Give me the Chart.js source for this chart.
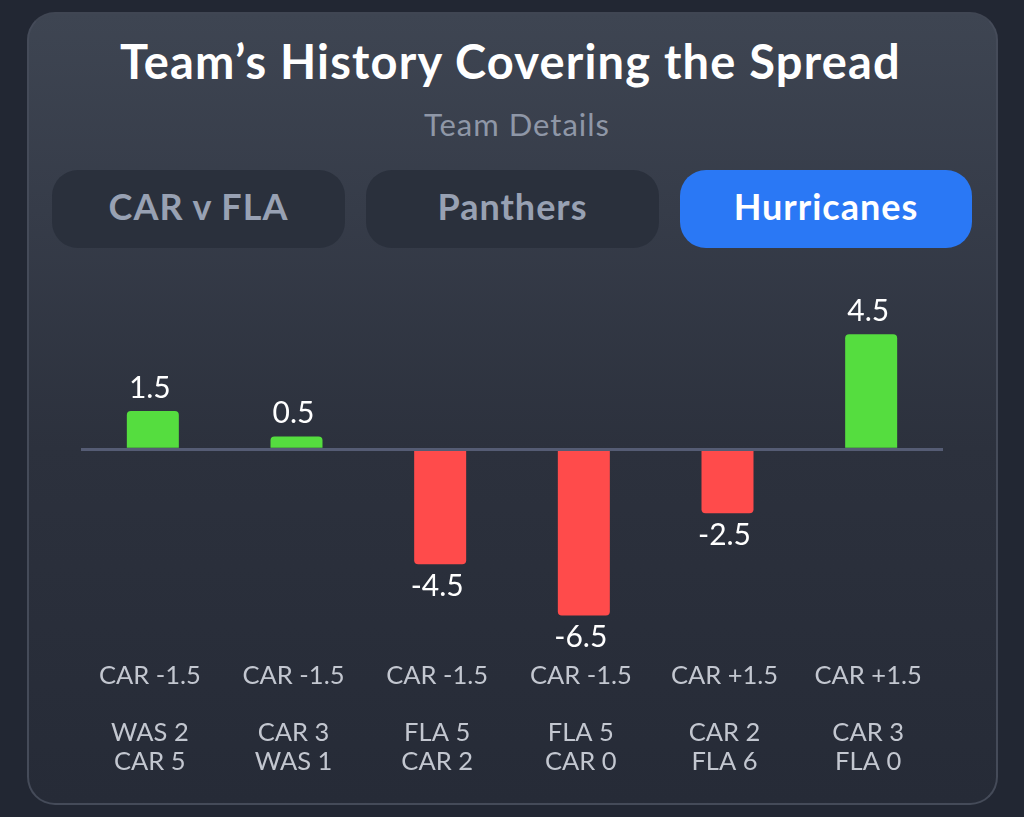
<!DOCTYPE html>
<html>
<head>
<meta charset="utf-8">
<title>Team's History Covering the Spread</title>
<script src="https://cdn.jsdelivr.net/npm/chart.js@4"></script>
<style>
html, body { margin: 0; padding: 0; }
body { width: 1024px; height: 817px; overflow: hidden; position: relative; background: #222733; font-family: Lato, sans-serif; }
.card { position: absolute; left: 27px; top: 12px; width: 967px; height: 789px; border: 2px solid #454b59; border-top-color: #404653; border-radius: 28px;
    background: linear-gradient(180deg, #3e4552 0%, #363c49 25%, #2c313d 55%, #262b37 100%); }
h1 { position: absolute; left: 0; top: 32px; width: 1021px; margin: 0; text-align: center; font-size: 47px; font-weight: 700; line-height: 58px; color: #fff; letter-spacing: 1.2px; }
.sub { position: absolute; left: 0; top: 105px; width: 1034px; text-align: center; font-size: 31px; line-height: 38px; color: #8f97a7; letter-spacing: 1px; }
.tab { position: absolute; top: 170px; width: 293px; height: 78px; border-radius: 26px; background: #2a303c; color: #98a1b3; font-size: 36px; font-weight: 700; line-height: 72px; text-align: center; letter-spacing: 1px; }
.tab.on { background: #2a78f5; color: #fff; width: 292px; }
#wrap { position: absolute; left: 81px; top: 296px; }
</style>
</head>
<body>
<div class="card"></div>
<h1>Team’s History Covering the Spread</h1>
<div class="sub">Team Details</div>
<div class="tab" style="left:52px">CAR v FLA</div>
<div class="tab" style="left:366px">Panthers</div>
<div class="tab on" style="left:680px">Hurricanes</div>
<div id="wrap"><canvas id="chart" width="862" height="493"></canvas></div>
<script>
const spreads = ['CAR -1.5', 'CAR -1.5', 'CAR -1.5', 'CAR -1.5', 'CAR +1.5', 'CAR +1.5'];
const awayScores = ['WAS 2', 'CAR 3', 'FLA 5', 'FLA 5', 'CAR 2', 'CAR 3'];
const homeScores = ['CAR 5', 'WAS 1', 'CAR 2', 'CAR 0', 'FLA 6', 'FLA 0'];
const margins = [1.5, 0.5, -4.5, -6.5, -2.5, 4.5];

const GREEN = '#55dd3f';
const RED = '#ff4b4b';

/* value labels above / below the bars */
const valueLabels = {
    id: 'valueLabels',
    afterDatasetsDraw(chart) {
        const ctx = chart.ctx;
        const bars = chart.getDatasetMeta(0).data;
        ctx.save();
        ctx.font = '30px Lato, sans-serif';
        ctx.fillStyle = '#ffffff';
        ctx.textAlign = 'center';
        ctx.textBaseline = 'middle';
        bars.forEach((bar, i) => {
            const v = margins[i];
            ctx.fillText(String(v), bar.x - 3, v >= 0 ? bar.y - 23 : bar.y + 22);
        });
        ctx.restore();
    }
};

new Chart(document.getElementById('chart'), {
    type: 'bar',
    data: {
        labels: spreads.map((s, i) => [s, '', awayScores[i], homeScores[i]]),
        datasets: [{
            data: margins,
            backgroundColor: margins.map(v => v >= 0 ? GREEN : RED),
            borderRadius: 4,
            barPercentage: 1,
            categoryPercentage: 0.362
        }]
    },
    options: {
        responsive: false,
        animation: false,
        layout: { padding: 0 },
        plugins: { legend: { display: false }, tooltip: { enabled: false } },
        scales: {
            x: {
                grid: { display: false },
                border: { display: false },
                ticks: {
                    color: '#c3c7d0',
                    font: { family: 'Lato, sans-serif', size: 25.5, lineHeight: 1.118 },
                    padding: 13,
                    labelOffset: -3,
                    maxRotation: 0,
                    autoSkip: false
                }
            },
            y: {
                min: -7.5,
                max: 6,
                ticks: { display: false, stepSize: 1.5 },
                border: { display: false },
                grid: {
                    z: 1,
                    drawTicks: false,
                    lineWidth: 3,
                    color: c => c.tick.value === 0 ? '#555c74' : 'transparent'
                }
            }
        }
    },
    plugins: [valueLabels]
});
</script>
</body>
</html>
